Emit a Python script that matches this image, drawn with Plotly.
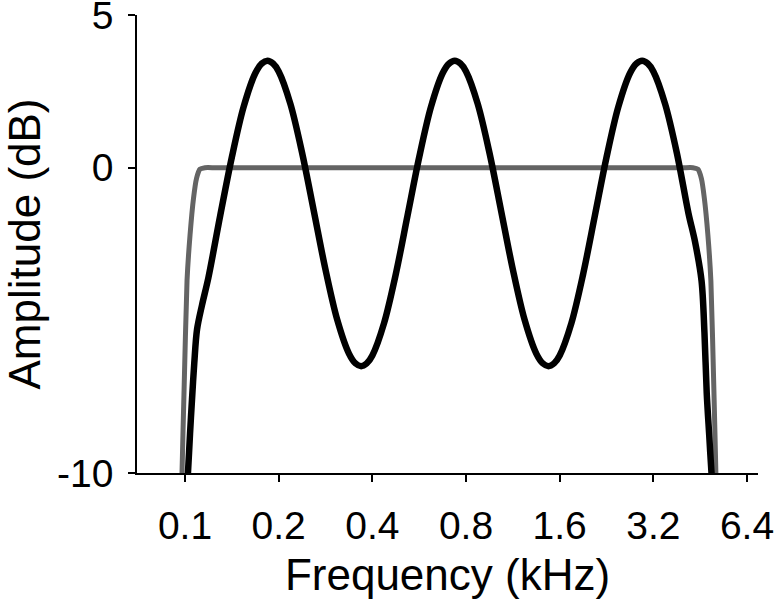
import plotly.graph_objects as go

# Black curve (rippled spectrum): frequency (kHz) and amplitude (dB)
black_freq = [0.1007, 0.1022, 0.1038, 0.1053, 0.1071, 0.1093, 0.1134, 0.1189,
              0.1297, 0.1414, 0.1542, 0.1682, 0.17654, 0.1840, 0.19185, 0.2000, 0.2181, 0.2378,
              0.2594, 0.2828, 0.3084, 0.3364, 0.35308, 0.3680, 0.3837, 0.4000, 0.4362, 0.4757,
              0.5187, 0.5657, 0.6169, 0.6727, 0.7062, 0.7361, 0.7674, 0.8000, 0.8724, 0.9514,
              1.0375, 1.1314, 1.2338, 1.3454, 1.4123, 1.4722, 1.5348, 1.6000, 1.7448, 1.9027,
              2.0749, 2.2627, 2.4675, 2.6909, 2.8246, 2.9445, 3.0696, 3.2000, 3.4896, 3.8055,
              4.1499, 4.3500, 4.5700, 4.6700, 4.7500, 4.8400, 4.9200, 5.0100]
black_db = [-11.0, -10.0, -8.7, -7.6, -6.4, -5.3, -4.5, -3.6,
            -1.58, 0.34, 1.98, 3.09, 3.41, 3.5, 3.41, 3.15, 2.09, 0.49,
            -1.42, -3.34, -4.98, -6.09, -6.41, -6.5, -6.41, -6.15, -5.09, -3.49,
            -1.58, 0.34, 1.98, 3.09, 3.41, 3.5, 3.41, 3.15, 2.09, 0.49,
            -1.42, -3.34, -4.98, -6.09, -6.41, -6.5, -6.41, -6.15, -5.09, -3.49,
            -1.58, 0.34, 1.98, 3.09, 3.41, 3.5, 3.41, 3.15, 2.09, 0.49,
            -1.5, -2.4, -3.7, -5.4, -7.4, -8.8, -10.0, -11.0]

# Gray curve (flat band-pass spectrum)
gray_freq = [0.09744, 0.0978, 0.0993, 0.1015, 0.1038, 0.1065, 0.1089, 0.1117,
             0.1159, 0.125, 0.2, 0.4, 0.8, 1.6, 3.2, 4.0, 4.287, 4.447, 4.564,
             4.666, 4.79, 4.897, 5.008, 5.082, 5.10]
gray_db = [-11.0, -10.0, -7.3, -3.7, -2.2, -1.0, -0.35, -0.05,
           0.0, 0.0, 0.0, 0.0, 0.0, 0.0, 0.0, 0.0, 0.0, -0.05, -0.35,
           -1.0, -2.2, -3.7, -7.3, -10.0, -11.0]

x_tickvals = [0.1, 0.2, 0.4, 0.8, 1.6, 3.2, 6.4]
x_ticktext = ["0.1", "0.2", "0.4", "0.8", "1.6", "3.2", "6.4"]
y_tickvals = [-10, 0, 5]
y_ticktext = ["-10", "0", "5"]

FONT = "Liberation Sans, Arial, sans-serif"

fig = go.Figure()
fig.add_trace(go.Scatter(x=gray_freq, y=gray_db, mode="lines",
                         line=dict(color="#646464", width=5, shape="spline", smoothing=0.5),
                         showlegend=False, hoverinfo="skip"))
fig.add_trace(go.Scatter(x=black_freq, y=black_db, mode="lines",
                         line=dict(color="#000000", width=6.5, shape="spline", smoothing=0.9),
                         showlegend=False, hoverinfo="skip"))

fig.update_layout(
    width=775, height=606,
    margin=dict(l=137, r=17, t=15, b=133),
    paper_bgcolor="white", plot_bgcolor="white",
    font=dict(family=FONT, color="black"),
    xaxis=dict(type="log", range=[-1.1543, 0.8414], automargin=False,
               tickvals=x_tickvals, ticktext=x_ticktext,
               ticks="outside", ticklen=7, tickwidth=1.5, tickcolor="black",
               showline=True, linecolor="black", linewidth=1.5,
               showgrid=False, zeroline=False, ticklabeloverflow="allow",
               ticklabelstandoff=10,
               tickfont=dict(size=39, family=FONT, color="black"),
               title=dict(text="Frequency (kHz)", font=dict(size=44, family=FONT, color="black"),
                          standoff=14)),
    yaxis=dict(range=[-10, 5], automargin=False,
               tickvals=y_tickvals, ticktext=y_ticktext,
               ticks="outside", ticklen=7, tickwidth=1.5, tickcolor="black",
               showline=True, linecolor="black", linewidth=1.5,
               showgrid=False, zeroline=False, ticklabeloverflow="allow",
               ticklabelstandoff=7,
               tickfont=dict(size=39, family=FONT, color="black"),
               title=dict(text="Amplitude (dB)", font=dict(size=44, family=FONT, color="black"),
                          standoff=12)),
)

# remove the default 8px page margin so the figure fills the window exactly
fig.write_html("out.html", config={"displayModeBar": False},
               post_script="document.body.style.margin='0';")
